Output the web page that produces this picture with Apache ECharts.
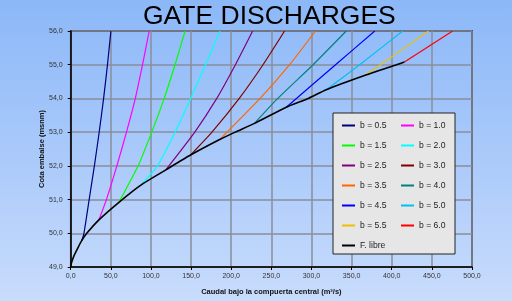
<!DOCTYPE html>
<html><head><meta charset="utf-8">
<script src="https://cdn.jsdelivr.net/npm/echarts@6/dist/echarts.min.js"></script>
<style>
html,body{margin:0;padding:0;}
#c{width:512px;height:301px;background:linear-gradient(to bottom,#8cb8f8 0%,#a9c9fa 50%,#c8dcfc 100%);}
</style></head><body><div id="c"></div>
<script>
// Data (Q in m3/s, level in msnm)
const xTicks = [0,50,100,150,200,250,300,350,400,450,500];
const yTicks = [49,50,51,52,53,54,55,56];
const seriesNames = ["b = 0.5","b = 1.0","b = 1.5","b = 2.0","b = 2.5","b = 3.0","b = 3.5","b = 4.0","b = 4.5","b = 5.0","b = 5.5","b = 6.0","F. libre"];
const b05 = [[13.7,49.78],[16.5,50],[23,51],[29.5,52],[35.5,53],[41,54],[45.8,55],[50.1,56]];
const b10 = [[35.2,50.4],[44.5,51],[57.5,52],[69.5,53],[80.5,54],[89.5,55],[97.8,56]];
const b15 = [[60.1,50.92],[84,52],[101,53],[116.5,54],[130,55],[142.6,56]];
const b20 = [[87.4,51.43],[108,52],[130,53],[149.5,54],[168,55],[186.1,56]];
const b25 = [[118.5,51.88],[154.6,53],[182,54],[205.2,55],[226.7,56]];
const b30 = [[149.3,52.32],[176,53],[210,54],[239.6,55],[266.5,56]];
const b35 = [[185.6,52.78],[236,54],[272.8,55],[305,56]];
const b40 = [[229,53.26],[258,54],[302,55],[343.3,56]];
const b45 = [[268.6,53.74],[330,55],[378.9,56]];
const b50 = [[318.4,54.26],[360,55],[413.7,56]];
const b55 = [[366,54.68],[386,55],[446,56]];
const b60 = [[415.8,55.08],[475.9,56]];
const libre = [[0,49],[0.5,49.08],[2,49.2],[5,49.38],[9,49.57],[13.7,49.78],[20,50],[35.2,50.4],[60.1,50.92],[87.4,51.43],[118.5,51.88],[149.3,52.32],[185.6,52.78],[205,53],[229,53.26],[268.6,53.74],[296,54],[318.4,54.26],[366,54.68],[406,55],[415.8,55.08]];
const seriesData = [b05,b10,b15,b20,b25,b30,b35,b40,b45,b50,b55,b60,libre];
const colors = ["#000080","#ff00ff","#00ff00","#00ffff","#800080","#800000","#ff6600","#008080","#0000ff","#00c0f0","#f0c000","#ff0000","#000000"];

const fmt = v => v.toFixed(1).replace('.', ',');
const chart = echarts.init(document.getElementById('c'), null, {renderer:'canvas'});
chart.setOption({
  backgroundColor: 'transparent',
  animation: false,
  title: {
    text: 'GATE DISCHARGES', left: 143, top: 3, padding: 0,
    textStyle: {fontFamily: 'Liberation Sans, Arial', fontSize: 26.5, fontWeight: 'normal', color: '#000'}
  },
  grid: {left: 70.7, right: 40, top: 31, bottom: 32.7, show: true, borderColor: '#000', borderWidth: 1.5, backgroundColor: 'transparent'},
  legend: {
    data: seriesNames, left: 333, top: 113, width: 112,
    orient: 'horizontal', backgroundColor: '#e6e6e6', borderColor: '#222', borderWidth: 1,
    padding: [7, 4, 3, 9], itemGap: 9, itemWidth: 13, itemHeight: 2, icon: 'rect',
    textStyle: {fontFamily: 'Liberation Sans, Arial', fontSize: 8.6, color: '#222', width: 32, lineHeight: 11, height: 11}
  },
  xAxis: {
    type: 'value', min: 0, max: 500, interval: 50,
    name: 'Caudal bajo la compuerta central (m³/s)', nameLocation: 'middle', nameGap: 21,
    nameTextStyle: {fontFamily: 'Liberation Sans, Arial', fontSize: 7.5, fontWeight: 'bold', color: '#111'},
    axisLine: {lineStyle: {color: '#000', width: 1.5}},
    axisTick: {show: true, length: 3, lineStyle: {color: '#000'}},
    axisLabel: {formatter: fmt, fontFamily: 'Liberation Sans, Arial', fontSize: 7, color: '#333', margin: 6},
    splitLine: {lineStyle: {color: '#8a8e9a', width: 1.5}}
  },
  yAxis: {
    type: 'value', min: 49, max: 56, interval: 1,
    name: 'Cota embalse (msnm)', nameLocation: 'middle', nameGap: 25, nameMoveOverlap: false,
    nameTextStyle: {fontFamily: 'Liberation Sans, Arial', fontSize: 7.5, fontWeight: 'bold', color: '#111'},
    axisLine: {show: true, lineStyle: {color: '#000', width: 1.5}},
    axisTick: {show: true, length: 3, lineStyle: {color: '#000'}},
    axisLabel: {formatter: fmt, fontFamily: 'Liberation Sans, Arial', fontSize: 7, color: '#333', margin: 8},
    splitLine: {lineStyle: {color: '#8a8e9a', width: 1.5}}
  },
  series: seriesNames.map((n, i) => ({
    name: n, type: 'line', data: seriesData[i], showSymbol: false, symbol: 'none',
    smooth: 0.2, color: colors[i],
    lineStyle: {width: i === 12 ? 1.6 : 1.2, color: colors[i]},
    z: i === 12 ? 3 : 2
  }))
});
</script></body></html>
